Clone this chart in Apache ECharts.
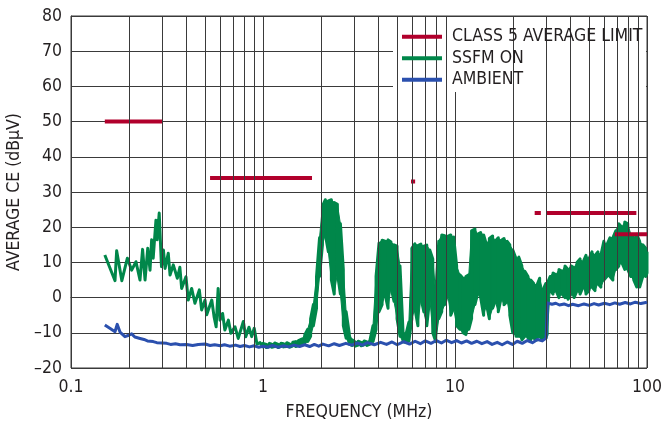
<!DOCTYPE html>
<html>
<head>
<meta charset="utf-8">
<script src="https://cdn.jsdelivr.net/npm/echarts@6/dist/echarts.min.js"></script>
<style>
  html, body { margin: 0; padding: 0; background: #fff; }
  #chart { width: 664px; height: 426px; }
</style>
</head>
<body>
<div id="chart"></div>
<script>
// Conducted emissions, average detector: CISPR 25 class 5 limit, SSFM on, ambient.

// Limit segments (MHz start, MHz end, dBµV)
const limitStart = [0.15, 0.53, 5.9, 26, 30, 68];
const limitEnd   = [0.3, 1.8, 6.2, 28, 88, 100];
const limitDb    = [50, 34, 33, 24, 24, 18];

// SSFM ON, low-frequency part (individual peaks)
const ssfmLeadFreq = [0.150, 0.1695, 0.1729, 0.184, 0.1966, 0.207, 0.218, 0.2287, 0.236, 0.243,
  0.251, 0.258, 0.263, 0.268, 0.277, 0.281, 0.288, 0.296, 0.303, 0.309,
  0.321, 0.328, 0.341, 0.358, 0.369, 0.377, 0.397, 0.408, 0.425, 0.442,
  0.466, 0.479, 0.499, 0.509, 0.541, 0.556, 0.57, 0.584, 0.597, 0.616,
  0.633, 0.66, 0.68, 0.715, 0.743, 0.79, 0.813, 0.845, 0.873, 0.9,
  0.93, 0.965];
const ssfmLeadDb = [12.1, 4.8, 13.3, 4.8, 11.2, 7.8, 10.2, 5.0, 13.7, 5.0,
  14.0, 7.8, 16.4, 11.2, 22.0, 16.4, 24.0, 8.8, 13.5, 8.3,
  12.6, 6.4, 9.3, 5.5, 8.6, 2.6, 5.9, -0.7, 2.6, -1.6,
  2.2, -3.5, -0.7, -4.9, -0.7, -5.4, -8.3, 2.6, -6.4, -4.5,
  -9.2, -6.4, -10.1, -8.3, -11.6, -6.8, -11.1, -8.4, -11.1, -8.7,
  -13.2, -12.8];

// SSFM ON, dense part: lower and upper edge of the trace at each frequency
const ssfmBandFreq = [1.0, 1.04, 1.08, 1.11, 1.15, 1.2, 1.24, 1.28, 1.33, 1.38,
  1.43, 1.48, 1.53, 1.59, 1.65, 1.71, 1.77, 1.83, 1.9, 1.97,
  2.04, 2.11, 2.19, 2.27, 2.35, 2.44, 2.53, 2.62, 2.71, 2.81,
  2.91, 3.02, 3.13, 3.24, 3.36, 3.48, 3.61, 3.74, 3.88, 4.02,
  4.17, 4.32, 4.48, 4.64, 4.81, 4.99, 5.17, 5.36, 5.55, 5.75,
  5.96, 6.18, 6.41, 6.64, 6.88, 7.13, 7.39, 7.66, 7.94, 8.23,
  8.53, 8.84, 9.16, 9.5, 9.84, 10.2, 10.6, 11.0, 11.4, 11.8,
  12.2, 12.7, 13.1, 13.6, 14.1, 14.6, 15.1, 15.7, 16.2, 16.8,
  17.4, 18.0, 18.7, 19.3, 20.0, 20.8, 21.5, 22.3, 23.1, 24.0,
  24.8, 25.7, 26.7, 27.6, 28.6, 29.7, 30.2, 31.3, 32.4, 33.6,
  34.8, 36.1, 37.4, 38.8, 40.2, 41.7, 43.2, 44.8, 46.4, 48.1,
  49.9, 51.7, 53.6, 55.5, 57.5, 59.6, 61.8, 64.1, 66.4, 68.8,
  71.3, 73.9, 76.6, 79.4, 82.3, 85.3, 88.4, 91.6, 95.0, 98.4,
  100];
const ssfmBandLow = [-14.0, -14.2, -13.9, -14.1, -13.9, -14.2, -13.8, -14.0, -13.9, -14.1,
  -13.7, -13.9, -13.6, -13.4, -13.0, -12.5, -11.0, -8.0, -3.0, 6.0,
  15.0, 18.0, 13.0, 5.0, 1.0, 7.0, 1.0, -8.0, -11.5, -13.2,
  -13.6, -13.8, -13.5, -13.7, -13.4, -13.6, -13.2, -12.5, -9.0, -4.0,
  -2.0, 1.0, -3.0, 3.0, -1.0, -6.0, -11.0, -12.5, -12.8, -12.4,
  -6.0, -3.0, -8.0, 0.0, -4.0, -8.0, 0.0, -10.0, -12.5, -6.0,
  -4.0, -2.0, 1.0, -5.0, -3.0, -8.0, -9.0, -10.0, -10.5, -9.0,
  -6.0, -2.0, 1.0, 0.0, -5.0, -2.0, -6.0, -3.0, -1.0, -4.0,
  0.0, -2.0, -1.0, -5.0, -10.0, -11.0, -11.0, -12.0, -11.0, -11.5,
  -12.0, -11.5, -12.0, -11.0, -12.0, -11.5, -10.5, 2.0, 1.0, 2.0,
  0.0, 1.0, 0.0, -0.5, 1.0, 0.0, 2.0, 1.0, 3.0, 1.0,
  2.0, 3.0, 2.0, 4.0, 3.0, 5.0, 6.0, 6.0, 5.0, 8.0,
  9.0, 10.0, 8.0, 8.0, 6.0, 5.0, 3.0, 3.0, 6.0, 6.0,
  7.0];
const ssfmBandHigh = [-13.0, -13.3, -13.0, -13.2, -12.9, -13.3, -13.0, -13.1, -12.8, -13.2,
  -12.7, -12.5, -12.2, -11.8, -10.6, -9.0, -6.0, -2.0, 6.0, 17.0,
  26.0, 27.8, 27.5, 27.8, 27.0, 26.5, 21.0, 8.0, -4.0, -10.0,
  -12.0, -12.6, -12.4, -12.7, -12.3, -12.6, -12.0, -8.0, 6.0, 15.5,
  16.3, 16.0, 16.4, 15.8, 15.0, 14.6, 9.0, -9.5, -10.5, -7.0,
  14.0, 15.3, 14.8, 15.2, 14.6, 14.9, 13.5, 11.0, 1.0, 16.0,
  17.8, 17.6, 17.4, 17.8, 17.2, 9.0, 6.5, 5.5, 6.0, 6.5,
  19.0, 19.5, 18.0, 18.5, 17.8, 15.0, 16.8, 17.5, 16.0, 17.0,
  16.2, 16.8, 16.0, 15.0, 13.5, 11.0, 11.5, 9.0, 7.5, 6.0,
  5.0, 4.0, 3.5, 5.5, 2.0, 4.0, 4.0, 6.0, 7.0, 6.5,
  8.0, 7.5, 9.0, 8.0, 9.0, 8.5, 10.0, 11.0, 10.0, 12.0,
  11.0, 13.0, 12.0, 13.0, 12.0, 16.0, 15.0, 17.0, 17.0, 19.0,
  21.0, 20.0, 21.5, 21.0, 18.0, 17.0, 18.0, 16.0, 15.0, 14.0,
  13.0];

// Ambient (MHz, dBµV)
const ambientFreq = [0.15, 0.16, 0.1695, 0.174, 0.18, 0.191, 0.2, 0.207, 0.215, 0.229,
  0.24, 0.25, 0.268, 0.28, 0.3, 0.315, 0.33, 0.35, 0.37, 0.4,
  0.43, 0.46, 0.5, 0.53, 0.56, 0.6, 0.63, 0.67, 0.72, 0.76,
  0.8, 0.85, 0.9, 0.95, 1.0, 1.06, 1.12, 1.2, 1.28, 1.36,
  1.45, 1.55, 1.65, 1.75, 1.85, 1.95, 2.05, 2.2, 2.35, 2.5,
  2.7, 2.9, 3.1, 3.3, 3.5, 3.8, 4.1, 4.4, 4.7, 5.0,
  5.4, 5.8, 6.2, 6.6, 7.0, 7.5, 8.0, 8.5, 9.0, 9.6,
  10.2, 10.8, 11.5, 12.2, 13, 13.8, 14.7, 15.6, 16.6, 17.6,
  18.7, 19.9, 21.1, 22.4, 23.8, 25.3, 26.9, 28.5, 29.8, 30.1,
  30.3, 31, 32, 33.5, 35, 37, 39, 41, 44, 47,
  50, 53, 56, 60, 64, 68, 72, 77, 82, 87,
  93, 100];
const ambientDb = [-7.8, -8.8, -9.7, -7.6, -9.8, -11.1, -10.7, -10.3, -11.2, -11.6,
  -11.9, -12.3, -12.5, -12.8, -12.9, -13.0, -13.3, -13.1, -13.4, -13.3,
  -13.6, -13.3, -13.2, -13.6, -13.4, -13.7, -13.4, -13.8, -13.5, -13.9,
  -13.6, -14.0, -13.7, -14.1, -13.8, -14.1, -13.6, -14.1, -13.7, -14.0,
  -13.5, -13.9, -13.4, -13.9, -13.3, -13.8, -13.2, -13.7, -13.1, -13.6,
  -13.0, -13.5, -12.9, -13.5, -12.8, -13.4, -12.7, -13.3, -12.6, -13.4,
  -12.5, -13.2, -12.4, -13.1, -12.3, -13.0, -12.2, -12.9, -12.1, -12.8,
  -12.2, -12.9, -12.3, -13.0, -12.4, -13.1, -12.5, -13.3, -12.7, -13.4,
  -12.6, -13.3, -12.4, -13.0, -12.2, -12.8, -11.9, -12.3, -11.5, -11.2,
  -1.5, -1.2, -1.9, -1.6, -2.1, -1.8, -2.3, -1.9, -2.3, -1.8,
  -2.2, -1.7, -2.1, -1.6, -2.0, -1.5, -1.9, -1.4, -1.8, -1.3,
  -1.7, -1.3];

// Axis grid: intermediate decade lines and value ticks
const minorGridFreq = [0.2, 0.3, 0.4, 0.5, 0.6, 0.7, 0.8, 0.9,
  2, 3, 4, 5, 6, 7, 8, 9, 20, 30, 40, 50, 60, 70, 80, 90];
const yMin = -20, yMax = 80, yStep = 10;
const xTickLabels = { 0.1: '0.1', 1: '1', 10: '10', 100: '100' };

const FONT = '"DejaVu Sans Condensed", "Liberation Sans", Arial, sans-serif';
const FONT_SIZE = 17.5;
const TEXT = '#231f20';
const GRID_LINE = '#3a3a3a';
const RED = '#b1002c', GREEN = '#00874a', BLUE = '#2b50ae';

// Build series data from the arrays above
const limitData = [];
limitStart.forEach((s, i) => {
  if (i > 0) limitData.push([s, null]);
  limitData.push([s, limitDb[i]], [limitEnd[i], limitDb[i]]);
});

// Trace: low-frequency peaks, then the dense part drawn edge to edge at each frequency
const ssfmData = ssfmLeadFreq.map((f, i) => [f, ssfmLeadDb[i]]);
ssfmBandFreq.forEach((f, i) => {
  const lo = [f, ssfmBandLow[i]], hi = [f, ssfmBandHigh[i]];
  if (i % 2 === 0) ssfmData.push(lo, hi); else ssfmData.push(hi, lo);
});
// Filled band cells between neighbouring frequencies: [f, low, high, fNext, lowNext, highNext]
const ssfmCells = ssfmBandFreq.slice(0, -1).map((f, i) => [
  f, ssfmBandLow[i], ssfmBandHigh[i],
  ssfmBandFreq[i + 1], ssfmBandLow[i + 1], ssfmBandHigh[i + 1]
]);

const ambientData = ambientFreq.map((f, i) => [f, ambientDb[i]]);

const chart = echarts.init(document.getElementById('chart'), null, { renderer: 'canvas' });
chart.setOption({
  animation: false,
  backgroundColor: '#fff',
  textStyle: { fontFamily: FONT, color: TEXT },
  grid: {
    left: 71, right: 17, top: 16, bottom: 58,
    outerBoundsMode: 'none', containLabel: false,
    show: true, borderColor: GRID_LINE, borderWidth: 1, backgroundColor: 'transparent'
  },
  xAxis: {
    type: 'log', logBase: 10, min: 0.1, max: 100,
    name: 'FREQUENCY (MHz)', nameLocation: 'middle', nameGap: 35,
    nameTextStyle: { fontFamily: FONT, fontSize: FONT_SIZE, color: TEXT },
    axisLine: { lineStyle: { color: GRID_LINE, width: 1 } },
    axisTick: { show: false },
    axisLabel: {
      fontFamily: FONT, fontSize: FONT_SIZE, color: TEXT, margin: 10,
      formatter: v => xTickLabels[v] !== undefined ? xTickLabels[v] : String(v)
    },
    splitLine: { show: true, lineStyle: { color: GRID_LINE, width: 1 } }
  },
  yAxis: {
    type: 'value', min: yMin, max: yMax, interval: yStep,
    name: 'AVERAGE CE (dBµV)', nameLocation: 'middle', nameGap: 48, nameRotate: 90,
    nameTextStyle: { fontFamily: FONT, fontSize: FONT_SIZE, color: TEXT },
    axisLine: { show: true, lineStyle: { color: GRID_LINE, width: 1 } },
    axisTick: { show: false },
    axisLabel: {
      fontFamily: FONT, fontSize: FONT_SIZE, color: TEXT, margin: 9,
      formatter: v => (v < 0 ? '\u2013' + Math.abs(v) : String(v))
    },
    splitLine: { show: true, lineStyle: { color: GRID_LINE, width: 1 } }
  },
  legend: {
    orient: 'vertical', left: 402, top: 26, padding: 0,
    itemWidth: 40, itemHeight: 4, itemGap: 0, icon: 'rect',
    textStyle: { fontFamily: FONT, fontSize: FONT_SIZE, color: TEXT, lineHeight: 21.5, padding: [0, 0, 0, 5] },
    data: ['CLASS 5 AVERAGE LIMIT', 'SSFM ON', 'AMBIENT'],
    z: 10
  },
  graphic: [{
    type: 'rect', z: 5, silent: true,
    shape: { x: 393, y: 17, width: 253, height: 75 },
    style: { fill: '#fff' }
  }],
  series: [
    {
      name: 'grid-lines', type: 'line', data: [], z: 1, silent: true,
      markLine: {
        silent: true, symbol: ['none', 'none'], label: { show: false },
        lineStyle: { color: GRID_LINE, width: 1, type: 'solid' },
        emphasis: { disabled: true },
        data: minorGridFreq.map(f => ({ xAxis: f }))
      }
    },
    {
      name: 'SSFM ON', type: 'line', data: ssfmData, z: 2,
      showSymbol: false, symbol: 'none', sampling: null,
      lineStyle: { color: GREEN, width: 3, join: 'round' },
      itemStyle: { color: GREEN }
    },
    {
      name: 'ssfm-band', type: 'custom', data: ssfmCells, z: 2, silent: true,
      encode: { x: [0, 3], y: [1, 2, 4, 5] },
      renderItem: (params, api) => ({
        type: 'polygon',
        shape: {
          points: [
            api.coord([api.value(0), api.value(1)]),
            api.coord([api.value(0), api.value(2)]),
            api.coord([api.value(3), api.value(5)]),
            api.coord([api.value(3), api.value(4)])
          ]
        },
        style: { fill: GREEN, stroke: GREEN, lineWidth: 1 }
      })
    },
    {
      name: 'AMBIENT', type: 'line', data: ambientData, z: 3,
      showSymbol: false, symbol: 'none',
      lineStyle: { color: BLUE, width: 3, join: 'round' },
      itemStyle: { color: BLUE }
    },
    {
      name: 'CLASS 5 AVERAGE LIMIT', type: 'line', data: limitData, z: 4,
      showSymbol: false, symbol: 'none', connectNulls: false,
      lineStyle: { color: RED, width: 4, cap: 'butt' },
      itemStyle: { color: RED }
    }
  ]
});
</script>
</body>
</html>
